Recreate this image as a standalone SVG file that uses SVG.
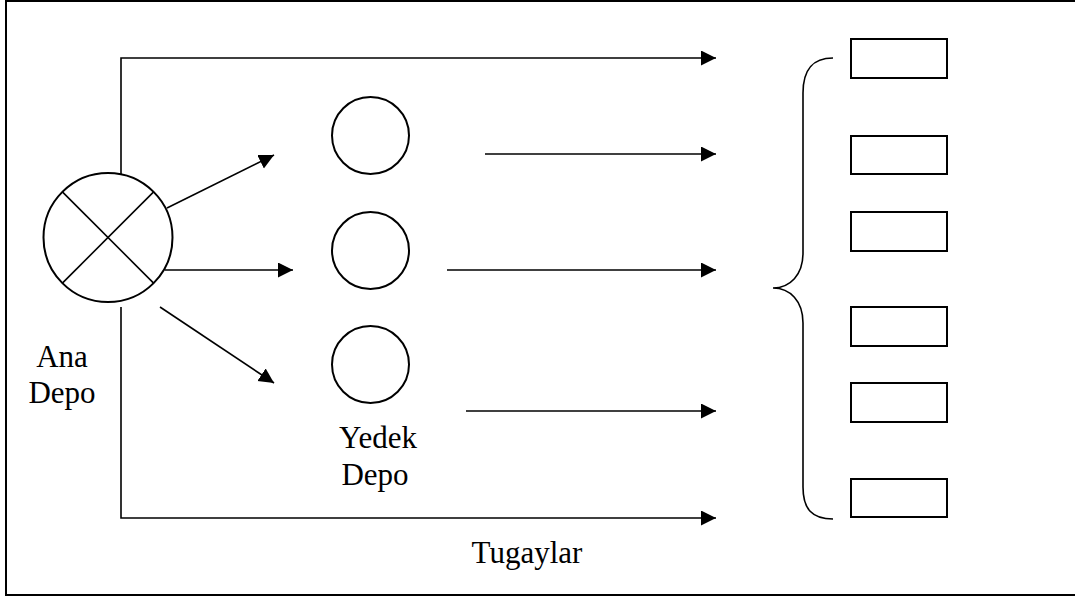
<svg xmlns="http://www.w3.org/2000/svg" width="1075" height="597" viewBox="0 0 1075 597">
  <style>
    .frame { fill: none; stroke: #000; stroke-width: 2; }
    .node { fill: #fff; stroke: #000; stroke-width: 2; }
    .box { fill: #fff; stroke: #000; stroke-width: 2; }
    .edge { fill: none; stroke: #000; stroke-width: 1.6; }
    .label { font-family: "Liberation Serif", "Times New Roman", serif; font-size: 31px; fill: #000; text-anchor: middle; }
  </style>
  <defs>
    <marker id="arrow" markerUnits="userSpaceOnUse" markerWidth="16" markerHeight="16" refX="15" refY="7.5" orient="auto">
      <path d="M0,0 L15,7.5 L0,15 Z" fill="#000"/>
    </marker>
  </defs>

  <rect width="1075" height="597" fill="#fff"/>
  <rect class="frame" x="6" y="1" width="1080" height="594"/>

  <!-- main depot -->
  <g id="ana-depo">
    <circle class="node" cx="108" cy="237.5" r="64.5"/>
    <line class="edge" x1="62.4" y1="191.9" x2="153.6" y2="283.1"/>
    <line class="edge" x1="153.6" y1="191.9" x2="62.4" y2="283.1"/>
    <text class="label" x="62" y="367">Ana</text>
    <text class="label" x="62" y="403">Depo</text>
  </g>

  <!-- reserve depots -->
  <g id="yedek-depo-1">
    <circle class="node" cx="370.5" cy="135.5" r="38.5"/>
  </g>
  <g id="yedek-depo-2">
    <circle class="node" cx="370.5" cy="250.5" r="38.5"/>
  </g>
  <g id="yedek-depo-3">
    <circle class="node" cx="370.5" cy="364.5" r="38.5"/>
  </g>
  <g id="yedek-depo-label">
    <text class="label" x="378" y="448">Yedek</text>
    <text class="label" x="375" y="485">Depo</text>
  </g>

  <!-- brigades -->
  <g id="tugaylar">
    <path class="edge" d="M833,58 C812,58 803,70 803,93 L803,253 C803,275 790,288 773,288 C790,288 803,301 803,323 L803,487 C803,509 812,519 833,519"/>
    <rect class="box" x="851" y="39" width="96" height="39"/>
    <rect class="box" x="851" y="136" width="96" height="38"/>
    <rect class="box" x="851" y="212" width="96" height="39"/>
    <rect class="box" x="851" y="307" width="96" height="39"/>
    <rect class="box" x="851" y="383" width="96" height="39"/>
    <rect class="box" x="851" y="479" width="96" height="38"/>
    <text class="label" x="527" y="563">Tugaylar</text>
  </g>

  <!-- supply flows -->
  <g id="connectors">
    <polyline class="edge" points="121,174 121,58 716,58" marker-end="url(#arrow)"/>
    <line class="edge" x1="167" y1="208" x2="274" y2="155" marker-end="url(#arrow)"/>
    <line class="edge" x1="165" y1="270" x2="293" y2="270" marker-end="url(#arrow)"/>
    <line class="edge" x1="160" y1="307" x2="274" y2="383" marker-end="url(#arrow)"/>
    <polyline class="edge" points="121,307 121,518 716,518" marker-end="url(#arrow)"/>
    <line class="edge" x1="485" y1="154" x2="716" y2="154" marker-end="url(#arrow)"/>
    <line class="edge" x1="447" y1="270" x2="716" y2="270" marker-end="url(#arrow)"/>
    <line class="edge" x1="466" y1="411" x2="716" y2="411" marker-end="url(#arrow)"/>
  </g>
</svg>
